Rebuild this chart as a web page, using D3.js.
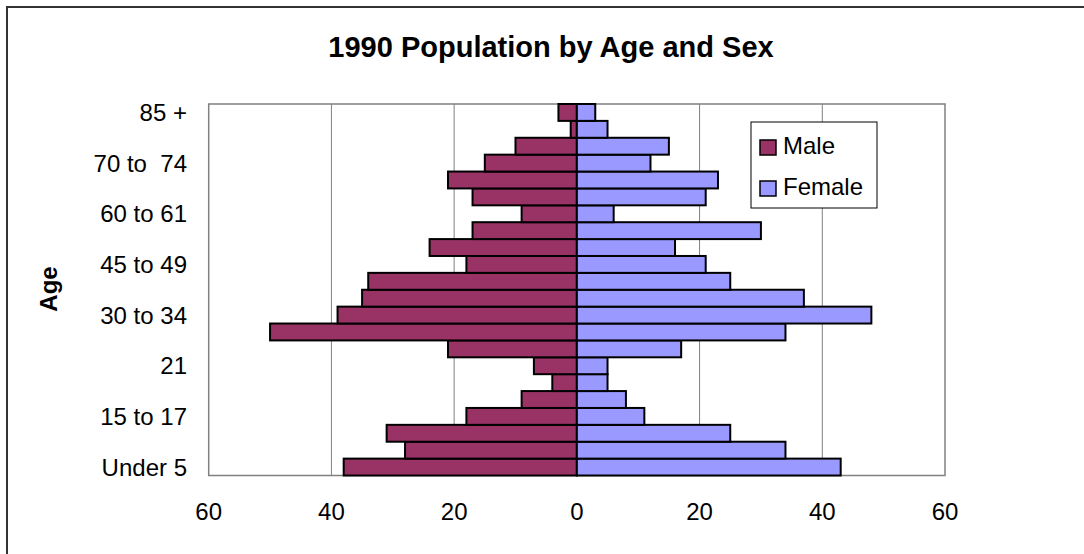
<!DOCTYPE html>
<html>
<head>
<meta charset="utf-8">
<script src="https://cdnjs.cloudflare.com/ajax/libs/d3/7.8.5/d3.min.js"></script>
<style>
  body { margin: 0; background: #fff; }
  svg text { font-family: Arial, "Liberation Sans", sans-serif; }
</style>
</head>
<body>
<svg id="chart" width="1084" height="554"></svg>
<script>

// age groups, bottom to top
var ages = ["Under 5", "5 to 9", "10 to 14", "15 to 17", "18 and 19", "20", "21",
  "22 to 24", "25 to 29", "30 to 34", "35 to 39", "40 to 44", "45 to 49", "50 to 54",
  "55 to 59", "60 to 61", "62 to 64", "65 to 69", "70 to  74", "75 to 79", "80 to 84", "85 +"];

var male = [38, 28, 31, 18, 9, 4, 7, 21, 50, 39, 35, 34, 18, 24, 17, 9, 17, 21, 15, 10, 1, 3];
var female = [43, 34, 25, 11, 8, 5, 5, 17, 34, 48, 37, 25, 21, 16, 30, 6, 21, 23, 12, 15, 5, 3];

// only every third age gets a label
var ageLabels = ["Under 5", "15 to 17", "21", "30 to 34", "45 to 49", "60 to 61", "70 to  74", "85 +"];
var xTicks = [-60, -40, -20, 0, 20, 40, 60];
var gridTicks = [-40, -20, 20, 40];

var seriesNames = ["Male", "Female"];
var seriesColors = ["#993366", "#9999FF"];

var data = ages.map(function(a, i) {
  return { age: a, male: male[i], female: female[i] };
});

var svg = d3.select("#chart");

// outer frame
svg.append("rect")
  .attr("x", 7).attr("y", 7)
  .attr("width", 1090).attr("height", 560)
  .attr("fill", "none")
  .attr("stroke", "#333")
  .attr("stroke-width", 2);

var plotLeft = 208.7, plotRight = 945, plotTop = 104, plotBottom = 475.5;

var x = d3.scaleLinear().domain([-60, 60]).range([plotLeft, plotRight]);
var y = d3.scaleBand().domain(ages).range([plotBottom, plotTop]).padding(0);

// title
svg.append("text")
  .attr("x", 551)
  .attr("y", 57)
  .attr("text-anchor", "middle")
  .style("font-size", "29px")
  .style("font-weight", "bold")
  .text("1990 Population by Age and Sex");

// grid lines
svg.selectAll(".grid")
  .data(gridTicks)
  .enter().append("line")
  .attr("class", "grid")
  .attr("x1", function(d) { return x(d); })
  .attr("x2", function(d) { return x(d); })
  .attr("y1", plotTop)
  .attr("y2", plotBottom)
  .attr("stroke", "#808080")
  .attr("stroke-width", 1);

// plot frame
svg.append("rect")
  .attr("x", plotLeft).attr("y", plotTop)
  .attr("width", plotRight - plotLeft).attr("height", plotBottom - plotTop)
  .attr("fill", "none")
  .attr("stroke", "#808080")
  .attr("stroke-width", 1.5);

// male bars go left
svg.selectAll(".male")
  .data(data)
  .enter().append("rect")
  .attr("class", "male")
  .attr("x", function(d) { return x(-d.male); })
  .attr("y", function(d) { return y(d.age); })
  .attr("width", function(d) { return x(0) - x(-d.male); })
  .attr("height", y.bandwidth())
  .attr("fill", seriesColors[0])
  .attr("stroke", "#000")
  .attr("stroke-width", 2);

// female bars go right
svg.selectAll(".female")
  .data(data)
  .enter().append("rect")
  .attr("class", "female")
  .attr("x", x(0))
  .attr("y", function(d) { return y(d.age); })
  .attr("width", function(d) { return x(d.female) - x(0); })
  .attr("height", y.bandwidth())
  .attr("fill", seriesColors[1])
  .attr("stroke", "#000")
  .attr("stroke-width", 2);

// y labels
svg.selectAll(".ylab")
  .data(ageLabels)
  .enter().append("text")
  .attr("class", "ylab")
  .attr("x", 187)
  .attr("y", function(d) { return y(d) + y.bandwidth() / 2; })
  .attr("dy", "0.36em")
  .attr("text-anchor", "end")
  .style("white-space", "pre")
  .style("font-size", "24px")
  .text(function(d) { return d; });

// x tick labels (absolute values)
svg.selectAll(".xlab")
  .data(xTicks)
  .enter().append("text")
  .attr("class", "xlab")
  .attr("x", function(d) { return x(d); })
  .attr("y", 520)
  .attr("text-anchor", "middle")
  .style("font-size", "24px")
  .text(function(d) { return Math.abs(d); });

// axis title
svg.append("text")
  .attr("transform", "translate(57,289) rotate(-90)")
  .attr("text-anchor", "middle")
  .style("font-size", "24px")
  .style("font-weight", "bold")
  .text("Age");

// legend
var legend = svg.append("g").attr("transform", "translate(751,122)");
legend.append("rect")
  .attr("width", 126).attr("height", 86)
  .attr("fill", "#fff")
  .attr("stroke", "#000")
  .attr("stroke-width", 1);

var items = legend.selectAll(".item")
  .data(seriesNames)
  .enter().append("g")
  .attr("class", "item")
  .attr("transform", function(d, i) { return "translate(9," + (18 + i * 41) + ")"; });

items.append("rect")
  .attr("width", 16).attr("height", 15)
  .attr("fill", function(d, i) { return seriesColors[i]; })
  .attr("stroke", "#000")
  .attr("stroke-width", 1.5);

items.append("text")
  .attr("x", 23)
  .attr("y", 14)
  .style("font-size", "24px")
  .text(function(d) { return d; });

</script>
</body>
</html>
